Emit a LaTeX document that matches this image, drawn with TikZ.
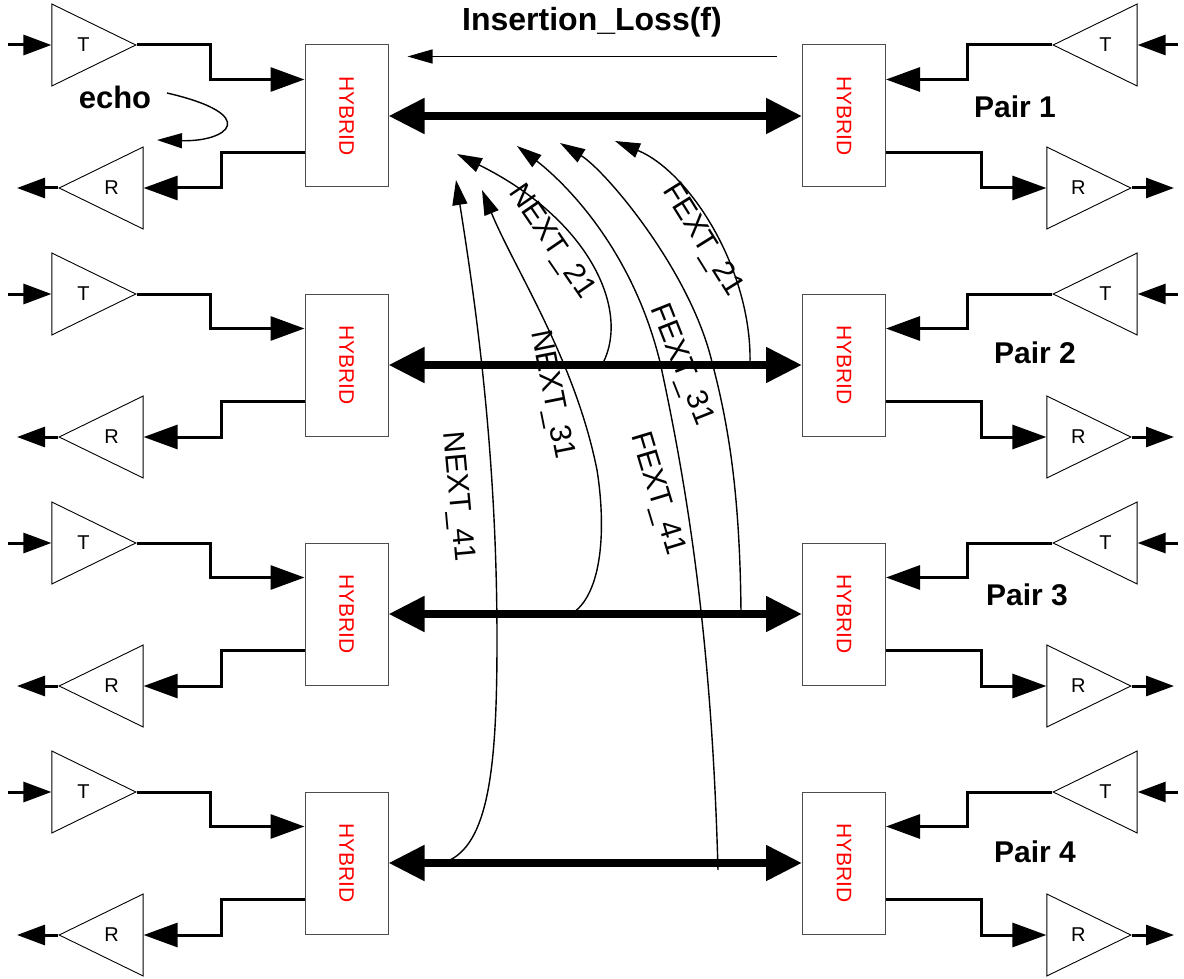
\documentclass[tikz,border=0pt]{standalone}
\usepackage{fontspec}
\setmainfont{Liberation Sans}
\usepackage{tikz}
\usetikzlibrary{shapes.geometric}
\usetikzlibrary{calc}
\usetikzlibrary{arrows.meta}

\begin{document}
\begin{tikzpicture}[x=1pt, y=-1pt,
  hybrid/.style={rectangle, draw=black!70, line width=1pt, minimum width=83pt, minimum height=142pt, inner sep=0pt, font=\fontsize{21}{24}\selectfont},
  amp/.style={isosceles triangle, isosceles triangle stretches, draw, line width=0.9pt, minimum width=82pt, minimum height=84pt, inner sep=0pt},
  ampfwd/.style={amp, label={[font=\fontsize{20}{24}\selectfont, xshift=6pt]center:#1}},
  ampback/.style={amp, shape border rotate=180, label={[font=\fontsize{20}{24}\selectfont, xshift=-6pt]center:#1}},
  wire/.style={line width=3pt, -{Triangle[length=34pt, width=24pt]}},
  feed/.style={line width=3pt, -{Triangle[length=28pt, width=20pt]}},
  bus/.style={line width=8pt, {Triangle[length=36pt, width=34pt]}-{Triangle[length=36pt, width=34pt]}},
  xtalk/.style={line width=1.4pt, -{Triangle[length=25pt, width=15pt]}},
  xlabel/.style={font=\fontsize{30}{36}\selectfont},
  title/.style={font=\bfseries\fontsize{31}{36}\selectfont}]

\useasboundingbox (0,0) rectangle (1184,979);

% Pairs
\foreach \i in {1,...,4}{
  \pgfmathsetmacro{\dy}{249*(\i-1)}
  \node[hybrid] (hl\i) at (346.5,116+\dy) {\rotatebox{-90}{\textcolor{red}{HYBRID}}};
  \node[hybrid] (hr\i) at (844,116+\dy) {\rotatebox{-90}{\textcolor{red}{HYBRID}}};
  \node[ampfwd=T, anchor=apex] (tl\i) at (137,45+\dy) {};
  \node[ampback=R, anchor=apex] (rl\i) at (58,188+\dy) {};
  \node[ampback=T, anchor=apex] (tr\i) at (1052,45+\dy) {};
  \node[ampfwd=R, anchor=apex] (rr\i) at (1132,188+\dy) {};
  \coordinate (inL\i) at (8,45+\dy);
  \coordinate (outL\i) at (17,188+\dy);
  \coordinate (inR\i) at (1178,45+\dy);
  \coordinate (outR\i) at (1174,188+\dy);
  % left side
  \draw[feed] (inL\i) -- (tl\i.lower side);
  \draw[wire] (tl\i.apex) -- ++(73,0) |- ([yshift=-35pt]hl\i.north west);
  \draw[wire] ([yshift=35pt]hl\i.south west) -- ++(-83,0) |- (rl\i.lower side);
  \draw[feed] (rl\i.apex) -- (outL\i);
  % right side
  \draw[feed] (inR\i) -- (tr\i.lower side);
  \draw[wire] (tr\i.apex) -- ++(-85,0) |- ([yshift=-35pt]hr\i.north east);
  \draw[wire] ([yshift=35pt]hr\i.south east) -- ++(95,0) |- (rr\i.lower side);
  \draw[feed] (rr\i.apex) -- (outR\i);
  % line
  \draw[bus] (hl\i.east) -- (hr\i.west);
}

% Pair labels
\foreach \i/\px/\py in {1/1015/107, 2/1035/353, 3/1027/595, 4/1035/852}
  \node[title, font=\bfseries\fontsize{30}{36}\selectfont] (pair\i) at (\px,\py) {Pair \i};

% Insertion loss
\node[title, font=\bfseries\fontsize{32}{38}\selectfont] (il) at (592,22) {Insertion\_Loss(f)};
\draw[line width=1.2pt, -{Triangle[length=25pt, width=14pt]}] ([xshift=-25pt, yshift=-12pt]hr1.north west) -- ([xshift=19pt, yshift=-12pt]hl1.north east);

% Echo
\node[title] (echo) at (115,97) {echo};
\coordinate (echoS) at (167,93);
\coordinate (echoE) at (157,140);
\draw[xtalk] (echoS) .. controls (262,115) and (228,142) .. (echoE);

% Crosstalk
\coordinate (n21) at (603,363);  \coordinate (n21t) at (457,154);
\coordinate (n31) at (573,613);  \coordinate (n31t) at (482,190);
\coordinate (n41) at (450,860);  \coordinate (n41t) at (456,180);
\coordinate (f21) at (750,363);  \coordinate (f21t) at (615,141);
\coordinate (f31) at (741,613);  \coordinate (f31t) at (560,143);
\coordinate (f41) at (718,870);  \coordinate (f41t) at (517,146);

\draw[xtalk] (n21) .. controls (630,310) and (590,220) .. (n21t);
\draw[xtalk] (n31) .. controls (605,590) and (605,520) .. (597,470) .. controls (575,360) and (515,270) .. (n31t);
\draw[xtalk] (n41) .. controls (490,840) and (497,760) .. (497,640) .. controls (497,450) and (475,300) .. (n41t);
\draw[xtalk] (f21) .. controls (752,270) and (690,172) .. (f21t);
\draw[xtalk] (f31) .. controls (740,500) and (730,430) .. (712,362) .. controls (690,270) and (605,170) .. (f31t);
\draw[xtalk] (f41) .. controls (712,650) and (690,500) .. (660,362) .. controls (630,240) and (555,175) .. (f41t);

\node[xlabel, rotate=-55.6] (lbn21) at (551,242) {NEXT\_21};
\node[xlabel, rotate=-58] (lbf21) at (702,240) {FEXT\_21};
\node[xlabel, rotate=-78.8] (lbn31) at (551,395) {NEXT\_31};
\node[xlabel, rotate=-68.4] (lbf31) at (681,365) {FEXT\_31};
\node[xlabel, rotate=-84.8] (lbn41) at (457,497) {NEXT\_41};
\node[xlabel, rotate=-73.2] (lbf41) at (657,494) {FEXT\_41};

\end{tikzpicture}
\end{document}
